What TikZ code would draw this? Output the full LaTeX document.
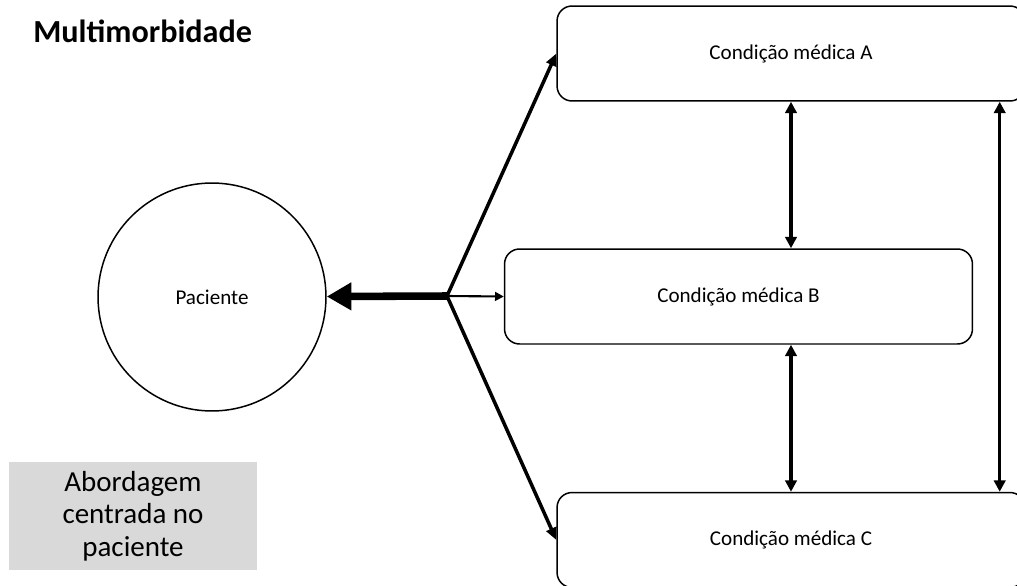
\documentclass[tikz,border=0pt]{standalone}
\usepackage{fontspec}
\setmainfont{Carlito}
\usetikzlibrary{arrows.meta}

\definecolor{boxgray}{HTML}{D9D9D9}

\tikzset{
    cond/.style={draw, line width=0.85pt, rounded corners=0.3cm,
        minimum width=9.36cm, minimum height=1.9cm,
        font=\fontsize{12}{14}\selectfont},
    bigarrow/.style={-{Triangle[length=14pt,width=15pt]}, line width=4.3pt},
    thinarrow/.style={-{Triangle[length=5pt,width=5pt]}, line width=1.2pt},
    midarrow/.style={-{Triangle[length=7pt,width=6pt]}, line width=2pt},
    linkarrow/.style={{Triangle[length=6.5pt,width=6.5pt]}-{Triangle[length=6.5pt,width=6.5pt]}, line width=2pt}
}

\begin{document}
\begin{tikzpicture}[x=0.02cm, y=-0.02cm]

    \useasboundingbox (0,0) rectangle (1017,585);
    \clip (0,0) rectangle (1017,585);

    % Title
    \node[anchor=base west, inner sep=0pt, font=\bfseries\fontsize{18.3}{22}\selectfont] (title) at (33,42) {Multimorbidade};

    % Patient and approach
    \node[circle, draw, line width=0.85pt, minimum size=4.56cm,
        font=\fontsize{12}{14}\selectfont] (pac) at (212,297) {Paciente};

    \node[fill=boxgray, minimum width=4.96cm, minimum height=2.16cm, align=center,
        font=\fontsize{16.5}{18.5}\selectfont] (appr) at (133,516) {Abordagem\\centrada no\\paciente};

    % Conditions
    \foreach \n/\x/\y in {A/791/53.5, B/738.5/296.5, C/791/540}
        \node[cond] (\n) at (\x,\y) {Condição médica \n};

    % Arrows from the hub
    \coordinate (hub) at (447,296);
    \draw[bigarrow] (hub) -- (pac);
    \draw[thinarrow] (hub) -- (B.west);
    \draw[midarrow] (hub) -- (A.west);
    \draw[midarrow] (hub) -- (C.west);

    % Links between conditions
    \draw[linkarrow] (A.south) -- (A.south |- B.north);
    \draw[linkarrow] (C.north) -- (C.north |- B.south);
    \draw[linkarrow] ([xshift=-0.52cm]A.south east) -- ([xshift=-0.52cm]C.north east);

\end{tikzpicture}
\end{document}
